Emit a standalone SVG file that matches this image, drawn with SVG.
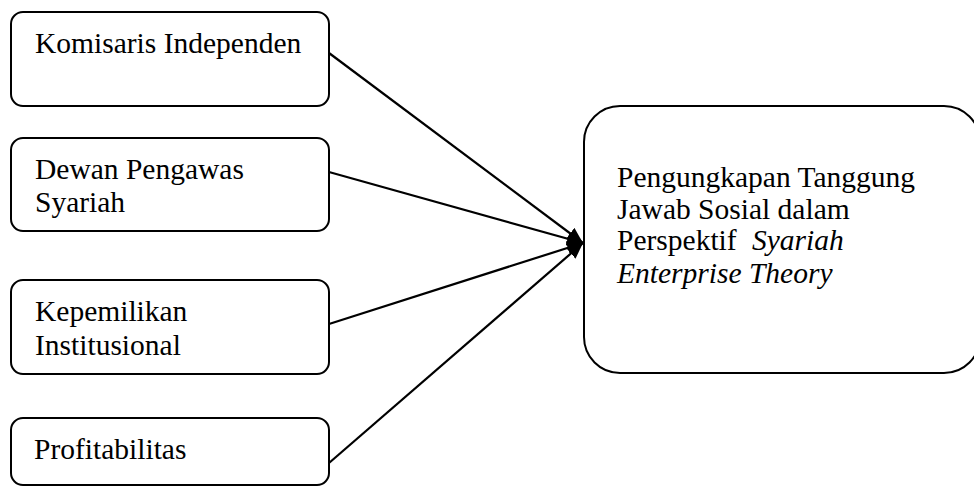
<svg xmlns="http://www.w3.org/2000/svg" width="974" height="486" viewBox="0 0 974 486">
<style>
.box{fill:#fff;stroke:#000;stroke-width:2}
.t{font-family:"Liberation Serif","Times New Roman",serif;font-size:29.5px;fill:#000}
.i{font-style:italic}
.c{stroke:#000;stroke-width:2.2;fill:none}
</style>
<defs>
<marker id="ah" markerUnits="userSpaceOnUse" markerWidth="18" markerHeight="16" refX="16" refY="7" orient="auto">
<path d="M0,0 L16,7 L0,14 Z" fill="#000"/>
</marker>
</defs>
<rect width="974" height="486" fill="#fff"/>
<g id="n1">
<rect class="box" x="11" y="12" width="318" height="94" rx="12"/>
<text class="t" x="35" y="53">Komisaris Independen</text>
</g>
<g id="n2">
<rect class="box" x="11" y="138" width="318" height="93" rx="12"/>
<text class="t" x="35" y="179">Dewan Pengawas</text>
<text class="t" x="35" y="212">Syariah</text>
</g>
<g id="n3">
<rect class="box" x="11" y="280" width="318" height="94" rx="12"/>
<text class="t" x="35" y="321">Kepemilikan</text>
<text class="t" x="35" y="355">Institusional</text>
</g>
<g id="n4">
<rect class="box" x="11" y="418" width="318" height="67" rx="12"/>
<text class="t" x="34" y="459">Profitabilitas</text>
</g>
<g id="n5">
<rect class="box" x="584" y="106" width="396" height="267" rx="36"/>
<text class="t" x="617" y="187">Pengungkapan Tanggung</text>
<text class="t" x="617" y="219">Jawab Sosial dalam</text>
<text class="t" x="617" y="250">Perspektif <tspan class="i" x="752">Syariah</tspan></text>
<text class="t i" x="617" y="283">Enterprise Theory</text>
</g>
<g id="connectors">
<line class="c" x1="329" y1="53" x2="583" y2="243" marker-end="url(#ah)"/>
<line class="c" x1="329" y1="172" x2="583" y2="243" marker-end="url(#ah)"/>
<line class="c" x1="329" y1="324" x2="583" y2="243" marker-end="url(#ah)"/>
<line class="c" x1="329" y1="463" x2="583" y2="243" marker-end="url(#ah)"/>
</g>
</svg>
